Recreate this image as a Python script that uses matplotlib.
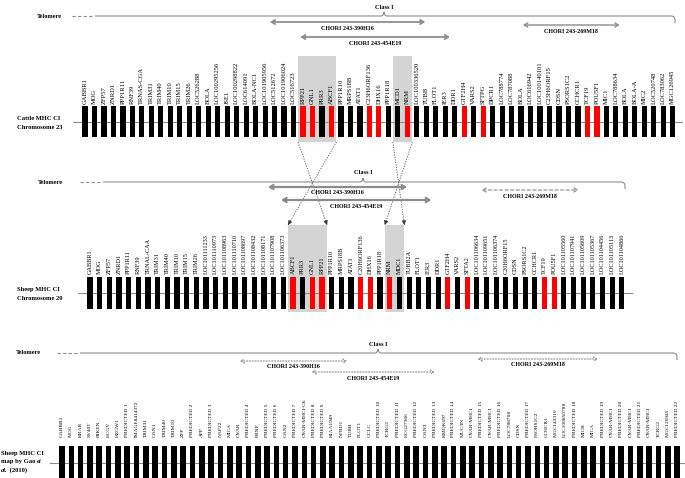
import matplotlib
matplotlib.use("Agg")
import matplotlib.pyplot as plt
from matplotlib.patches import Rectangle
from matplotlib.path import Path
from matplotlib.patches import PathPatch

# ---------------- data ----------------
cattle_genes = ["GABBR1", "MOG", "ZFP57", "ZNRD1", "PPP1R11", "RNF39", "TRNAS-CGA", "TRIM31",
                "TRIM40", "TRIM10", "TRIM15", "TRIM26", "LOC526288", "BOLA", "LOC100295256",
                "JSE1", "LOC100298822", "LOC614091", "BOLA-NC1", "LOC101905956", "LOC512672",
                "LOC101906024", "LOC516723", "RPP21", "GNL1", "PRR3", "ABCF1", "PPP1R10",
                "MRPS18B", "ATAT1", "C23H6ORF136", "DHX16", "PPP1R18", "MCD1", "NRM",
                "LOC100336520", "TUBB", "FLOT1", "IER3", "DDR1", "GTF2H4", "VARS2", "SFTPG",
                "DPCR1", "LOC788774", "LOC787088", "BOLA", "LOC616942", "LOC100140101",
                "C23H6ORF15", "CDSN", "PSORS1C2", "CCHCR1", "TCF19", "POU5F1", "MIC1",
                "LOC788634", "BOLA", "BOLA-A", "MIC2", "LOC520748", "LOC783062", "MGC126945"]
cattle_red = ["RPP21", "GNL1", "ABCF1", "C23H6ORF136", "DHX16", "NRM", "GTF2H4", "SFTPG",
              "TCF19", "POU5F1"]

sheep_genes = ["GABBR1", "MOG", "ZFP57", "ZNRD1", "PPP1R11", "RNF39", "TRNAL-CAA", "TRIM31",
               "TRIM40", "TRIM10", "TRIM15", "TRIM26", "LOC101111233", "LOC101110973",
               "LOC101108963", "LOC101110710", "LOC101108697", "LOC101108432", "LOC101108171",
               "LOC101107908", "LOC101106373", "ABCF1", "PRR3", "GNL1", "RPP21", "PPP1R10",
               "MRPS18B", "ATAT1", "C20H6ORF136", "DHX16", "PPP1R18", "NRM", "MDC1", "TUBB2A",
               "FLOT1", "IER3", "DDR1", "GTF2H4", "VARS2", "SFTA2", "LOC101106634",
               "LOC101109651", "LOC101106374", "C20H6ORF15", "CDSN", "PSORS1C2", "CCHCR1",
               "TCF19", "POU5F1", "LOC101105560", "LOC101107941", "LOC101105609",
               "LOC101105367", "LOC101104456", "LOC101105113", "LOC101104866"]
sheep_red = ["ABCF1", "GNL1", "RPP21", "C20H6ORF136", "DHX16", "NRM", "GTF2H4", "SFTA2",
             "TCF19", "POU5F1"]

gao_genes = ["GABBR1", "MOG", "KRAB", "SV40T", "RIKEN", "HCGV", "HZGW1", "PREDICTED 1",
             "IMAGE8414372", "TRIM31", "OAN1", "TRIM40", "TRIM10", "ZFP", "PREDICTED 2", "APP",
             "PREDICTED 3", "NAP22", "MICA", "OVAR", "PREDICTED 4", "PRNP", "PREDICTED 5",
             "PREDICTED 6", "OAN2", "PREDICTED 7", "OVAR-MHCI-G6", "PREDICTED 8", "PREDICTED 9",
             "KIAA1949", "NFRD1", "TUBB", "FLOT1", "GCLC", "PREDICTED 10", "TCRG2",
             "PREDICTED 11", "HCG27366", "PREDICTED 12", "OAN3", "PREDICTED 13", "KMQK697",
             "PREDICTED 14", "MUC3N", "OVAR-MHCI", "PREDICTED 15", "OVAR-MHCI", "PREDICTED 16",
             "LOC788708", "CDSN", "PREDICTED 17", "PSORS1C2", "CCHCR1", "MGC143310",
             "LOC100850788", "PREDICTED 18", "MICB", "MICA", "PREDICTED 19", "OVAR-MHCI",
             "PREDICTED 20", "OVAR-MHCI", "PREDICTED 21", "OVAR-MHCI", "TCRG2", "MGC126945",
             "PREDICTED 22"]
gao_red = []

clone_names = ["CHORI 243-390H16", "CHORI 243-454E19", "CHORI 243-269M18"]
# clone spans expressed in gene-index units along each map
cattle_clones = [(19.5, 35.9), (22.7, 38.5), (46.2, 56.4)]
sheep_clones = [(18.4, 32.8), (19.75, 35.3), (40.5, 50.5)]
gao_clones = [(19.1, 30.6), (26.8, 40.0), (44.6, 57.5)]

# inverted syntenic blocks (first gene, last gene)
cattle_boxes = [("RPP21", "ABCF1"), ("MCD1", "NRM")]
sheep_boxes = [("ABCF1", "RPP21"), ("NRM", "MDC1")]

# ---------------- drawing ----------------
W, H = 685, 478
fig = plt.figure(figsize=(W / 100, H / 100), dpi=100)
ax = fig.add_axes([0, 0, 1, 1])
ax.set_xlim(0, W)
ax.set_ylim(H, 0)
ax.axis("off")

SERIF = "Liberation Serif"
GRAY = "#8c8c8c"
BOXGRAY = "#d4d4d4"


def gx(p, i):
    return p["x0"] + i * p["dx"]


def draw_map(p, genes, red):
    ax.plot([p["lx0"], p["lx1"]], [(p["top"] + p["bot"]) / 2] * 2, color=GRAY, lw=0.8, zorder=2)
    for i, g in enumerate(genes):
        x = gx(p, i)
        c = "#ff0000" if g in red else "black"
        ax.add_patch(Rectangle((x - p["bw"] / 2, p["top"]), p["bw"], p["bot"] - p["top"],
                               facecolor=c, edgecolor="none", zorder=3))
        ax.text(x, p["ltop"], g, rotation=90, ha="center", va="bottom", fontsize=p["fs"],
                family=SERIF, zorder=4)


def draw_boxes(p, genes, boxes):
    rects = []
    for a, b in boxes:
        i0, i1 = genes.index(a), genes.index(b)
        x0 = gx(p, i0) - 5
        x1 = gx(p, i1) + 5
        ax.add_patch(Rectangle((x0, p["by0"]), x1 - x0, p["by1"] - p["by0"],
                               facecolor=BOXGRAY, edgecolor="none", zorder=1))
        rects.append((x0, x1))
    return rects


def draw_header(p, clones, style):
    y = p["hy"]
    ax.text(p["tx"], y, "Telomere", ha="right", va="center", fontsize=4.6, family=SERIF,
            weight="bold")
    ax.plot([p["hx0"], p["hx0"] + 20], [y, y], color=GRAY, lw=0.8, ls=(0, (3, 2)))
    xe = p["hx1"]
    tk = p["tick"]
    verts = [(p["hx0"] + 23, y), (tk - 3, y), (tk - 0.5, y), (tk, y - 4), (tk + 0.5, y),
             (tk + 3, y), (xe - 4, y), (xe, y), (xe, y + 4), (xe, y + 7)]
    codes = [Path.MOVETO, Path.LINETO, Path.CURVE3, Path.CURVE3, Path.CURVE3, Path.CURVE3,
             Path.LINETO, Path.CURVE3, Path.CURVE3, Path.LINETO]
    ax.add_patch(PathPatch(Path(verts, codes), facecolor="none", edgecolor=GRAY, lw=0.8))
    ax.text(tk, y - 9, "Class I", ha="center", va="center", fontsize=4.6, family=SERIF,
            weight="bold")
    for (s, e), name, cy in zip(clones, clone_names, p["cy"]):
        xs, xe2 = gx(p, s), gx(p, e)
        ls = style[0] if name != "CHORI 243-269M18" else style[1]
        lw = style[2] if name != "CHORI 243-269M18" else style[3]
        ax.annotate("", xy=(xe2, cy), xytext=(xs, cy),
                    arrowprops=dict(arrowstyle="<->,head_length=0.25,head_width=0.15",
                                    color=GRAY, lw=lw, ls=ls, shrinkA=0, shrinkB=0))
        ax.text((xs + xe2) / 2, cy + 6, name, ha="center", va="center", fontsize=4.3,
                family=SERIF, weight="bold")


P1 = dict(x0=85, dx=9.48, bw=5.2, top=106, bot=137, ltop=103.5, fs=4.7, lx0=73, lx1=682,
          by0=56, by1=142, hy=16, tx=62, hx0=72, hx1=675, tick=384, cy=[22, 37, 25])
P2 = dict(x0=90, dx=9.67, bw=5.2, top=277, bot=309, ltop=273.5, fs=4.5, lx0=78, lx1=632,
          by0=225, by1=312, hy=182, tx=63, hx0=80, hx1=625, tick=363, cy=[187, 200, 190])
P3 = dict(x0=62, dx=9.32, bw=5.6, top=446, bot=480, ltop=437, fs=3.9, lx0=50, lx1=685,
          hy=353, tx=41, hx0=57, hx1=677, tick=378, cy=[361, 372, 359])

r1 = draw_boxes(P1, cattle_genes, cattle_boxes)
r2 = draw_boxes(P2, sheep_genes, sheep_boxes)
draw_map(P1, cattle_genes, cattle_red)
draw_map(P2, sheep_genes, sheep_red)
draw_map(P3, gao_genes, gao_red)

draw_header(P1, cattle_clones, ("-", "-", 1.3, 1.0))
draw_header(P2, sheep_clones, ("-", (0, (3, 2)), 1.6, 0.8))
draw_header(P3, gao_clones, ((0, (1, 1.5)), (0, (1, 1.5)), 0.8, 0.8))

# crossing connectors between inverted blocks
for (a0, a1), (b0, b1) in zip(r1, r2):
    for xa, xb in ((a0, b1), (a1, b0)):
        ax.plot([xa, xb], [P1["by1"], P2["by0"]], color="#555555", lw=0.6, ls=(0, (1.5, 1.5)))
        ax.annotate("", xy=(xb, P2["by0"]),
                    xytext=(xb - (xb - xa) * 0.05, P2["by0"] - (P2["by0"] - P1["by1"]) * 0.05),
                    arrowprops=dict(arrowstyle="-|>,head_length=0.25,head_width=0.12",
                                    color="#333333", lw=0.5, shrinkA=0, shrinkB=0))

# left labels
lab = dict(fontsize=4.7, family=SERIF, weight="bold", va="center")
ax.text(17, 118, "Cattle MHC CI", ha="left", **lab)
ax.text(17, 127, "Chromosome 23", ha="left", **lab)
ax.text(17, 289, "Sheep MHC CI", ha="left", **lab)
ax.text(17, 298, "Chromosome 20", ha="left", **lab)
ax.text(1, 453, "Sheep MHC CI", ha="left", **lab)
t1 = ax.text(1, 461.5, "map by Gao ", ha="left", **lab)
ax.annotate("et", xy=(1, 0.5), xycoords=t1, ha="left", style="italic", **lab)
t2 = ax.text(1, 470, "al.", ha="left", style="italic", **lab)
ax.annotate(" (2010)", xy=(1, 0.5), xycoords=t2, ha="left", **lab)

fig.savefig("out.png", dpi=100)
